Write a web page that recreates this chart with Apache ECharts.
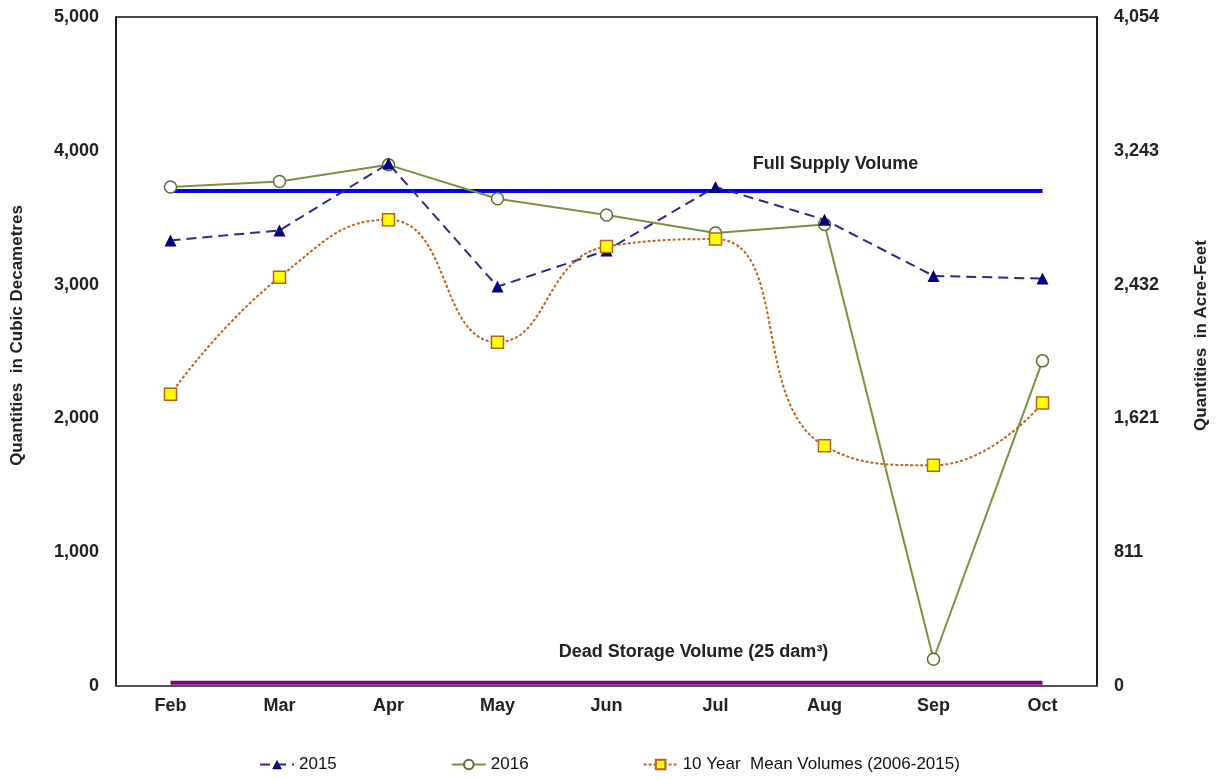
<!DOCTYPE html>
<html>
<head>
<meta charset="utf-8">
<title>Reservoir Volumes</title>
<script src="https://cdn.jsdelivr.net/npm/echarts@6/dist/echarts.min.js"></script>
<style>
  html, body { margin: 0; padding: 0; background: #ffffff; }
  #chart { width: 1218px; height: 779px; }
</style>
</head>
<body>
<div id="chart"></div>
<script>
// Monthly storage volumes (cubic decametres)
const months = ['Feb', 'Mar', 'Apr', 'May', 'Jun', 'Jul', 'Aug', 'Sep', 'Oct'];
const vol2015 = [3330, 3405, 3905, 2985, 3255, 3730, 3485, 3065, 3045];
const vol2016 = [3730, 3770, 3895, 3642, 3520, 3385, 3450, 200, 2430];
const meanVolumes = [2180, 3055, 3485, 2570, 3285, 3340, 1795, 1650, 2115];
const fullSupplyVolume = 3700;
const deadStorageVolume = 25;
const leftTicks = ['0', '1,000', '2,000', '3,000', '4,000', '5,000'];
const rightTicks = ['0', '811', '1,621', '2,432', '3,243', '4,054'];

const FONT = '"Liberation Sans", Arial, sans-serif';

const chart = echarts.init(document.getElementById('chart'), null, { renderer: 'canvas' });

const tickLabel = (arr) => ({
  fontFamily: FONT, fontWeight: 'bold', fontSize: 18, color: '#222', margin: 17,
  formatter: (v) => arr[Math.round(v / 1000)]
});

const titleStyle = {
  fontFamily: FONT, fontWeight: 'bold', fontSize: 17, color: '#222',
  padding: [0, 0, 0, 32]
};

chart.setOption({
  animation: false,
  backgroundColor: '#ffffff',
  grid: {
    left: 116, right: 120, top: 17, bottom: 93,
    show: true, borderColor: '#111', borderWidth: 1.5, backgroundColor: 'transparent'
  },
  legend: {
    bottom: 1, left: 254,
    itemGap: 114, itemWidth: 34, itemHeight: 12,
    textStyle: { fontFamily: FONT, fontSize: 17, color: '#111' },
    data: ['2015', '2016', '10 Year  Mean Volumes (2006-2015)']
  },
  xAxis: {
    type: 'category', data: months, boundaryGap: true,
    axisLine: { lineStyle: { color: '#555', width: 1.5 } },
    axisTick: { show: false },
    axisLabel: { fontFamily: FONT, fontWeight: 'bold', fontSize: 18, color: '#222', margin: 11 }
  },
  yAxis: [
    {
      type: 'value', min: 0, max: 5000, interval: 1000,
      name: 'Quantities  in Cubic Decametres', nameLocation: 'middle', nameGap: 90, nameRotate: 90,
      nameTextStyle: titleStyle,
      axisLine: { show: true, lineStyle: { color: '#111', width: 1.5 } },
      axisTick: { show: false }, splitLine: { show: false },
      axisLabel: tickLabel(leftTicks)
    },
    {
      type: 'value', min: 0, max: 5000, interval: 1000, position: 'right',
      name: 'Quantities  in Acre-Feet', nameLocation: 'middle', nameGap: 96, nameRotate: 90,
      nameTextStyle: titleStyle,
      axisLine: { show: true, lineStyle: { color: '#111', width: 1.5 } },
      axisTick: { show: false }, splitLine: { show: false },
      axisLabel: tickLabel(rightTicks)
    }
  ],
  series: [
    {
      name: 'Full Supply Volume', type: 'line', data: months.map(() => fullSupplyVolume),
      symbol: 'none', lineStyle: { color: '#0000ff', width: 4 }, z: 1,
      markPoint: {
        symbol: 'circle', symbolSize: 0,
        label: { show: true, formatter: 'Full Supply Volume', fontFamily: FONT, fontWeight: 'bold',
                 fontSize: 18, color: '#222', offset: [11, -27] },
        data: [{ coord: ['Aug', fullSupplyVolume] }]
      }
    },
    {
      name: 'Dead Storage Volume', type: 'line', data: months.map(() => deadStorageVolume),
      symbol: 'none', lineStyle: { color: '#800080', width: 4 }, z: 1,
      markPoint: {
        symbol: 'circle', symbolSize: 0,
        label: { show: true, formatter: 'Dead Storage Volume (25 dam³)', fontFamily: FONT, fontWeight: 'bold',
                 fontSize: 18, color: '#222', offset: [-22, -31] },
        data: [{ coord: ['Jul', deadStorageVolume] }]
      }
    },
    {
      name: '2015', type: 'line', data: vol2015,
      symbol: 'triangle', symbolSize: 12,
      itemStyle: { color: '#000080' },
      lineStyle: { color: '#2a2a90', width: 2, type: [10, 6] }, z: 3
    },
    {
      name: '2016', type: 'line', data: vol2016,
      symbol: 'circle', symbolSize: 12,
      itemStyle: { color: '#ffffff', borderColor: '#5a6e30', borderWidth: 1.5 },
      lineStyle: { color: '#77933c', width: 2 }, z: 2
    },
    {
      name: '10 Year  Mean Volumes (2006-2015)', type: 'line', data: meanVolumes,
      smooth: 0.5, symbol: 'rect', symbolSize: 12,
      itemStyle: { color: '#ffff00', borderColor: '#b8601e', borderWidth: 1.5 },
      lineStyle: { color: '#c0651e', width: 2, type: [3, 2] }, z: 4
    }
  ]
});
</script>
</body>
</html>
